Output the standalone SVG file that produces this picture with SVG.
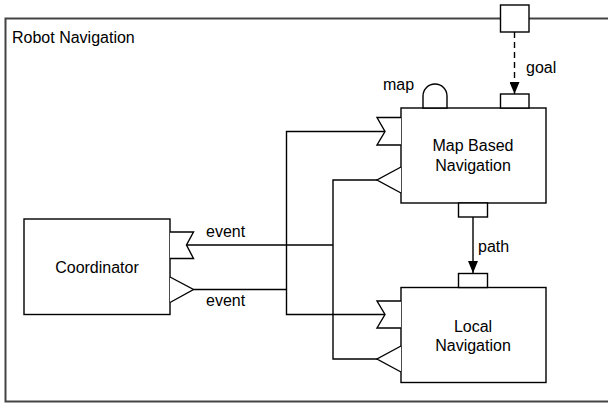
<svg xmlns="http://www.w3.org/2000/svg" width="608" height="405" viewBox="0 0 608 405">
  <defs>
    <marker id="arrow" viewBox="0 0 12 10" refX="12" refY="5" markerWidth="12" markerHeight="10" markerUnits="userSpaceOnUse" orient="auto">
      <path d="M0,0 L12,5 L0,10 Z" fill="#000"/>
    </marker>
    <style>
      .frame { fill: none; stroke: #444; stroke-width: 2; }
      .box { fill: #fff; stroke: #000; stroke-width: 1.4; }
      .port { fill: #fff; stroke: #000; stroke-width: 1.4; stroke-linejoin: miter; }
      .wire { fill: none; stroke: #000; stroke-width: 1.4; }
      .flow { fill: none; stroke: #000; stroke-width: 1.4; }
      .dashed { stroke-dasharray: 6 4; }
      text { font-family: "Liberation Sans", Arial, Helvetica, sans-serif; font-size: 16px; fill: #000; }
      .mid { text-anchor: middle; }
    </style>
  </defs>

  <!-- enclosing component -->
  <g id="robot-navigation">
    <rect class="frame" x="5.5" y="18.5" width="610" height="383"/>
    <text x="12" y="43">Robot Navigation</text>
  </g>

  <!-- connectors -->
  <g id="connectors">
    <!-- event wiring -->
    <polyline class="wire" points="385,131.5 286.5,131.5 286.5,314.5 385,314.5"/>
    <polyline class="wire" points="377,180 333,180 333,359 377,359"/>
    <line class="wire" x1="186.5" y1="245" x2="333" y2="245"/>
    <line class="wire" x1="193.5" y1="289.5" x2="286.5" y2="289.5"/>
    <!-- goal -->
    <line class="flow dashed" x1="514.5" y1="32" x2="514.5" y2="94" marker-end="url(#arrow)"/>
    <!-- path -->
    <line class="flow" x1="473" y1="217" x2="473" y2="273" marker-end="url(#arrow)"/>
  </g>

  <g id="connector-labels">
    <text x="526" y="73">goal</text>
    <text x="478" y="252">path</text>
    <text x="206" y="237">event</text>
    <text x="206" y="306">event</text>
  </g>

  <!-- external goal port on the frame -->
  <g id="goal-port">
    <rect class="port" x="500.5" y="5" width="28.5" height="27"/>
  </g>

  <g id="map-based-navigation">
    <rect class="box" x="401" y="108" width="145" height="95"/>
    <path class="port" d="M423,108 L423,96 A12,12 0 0 1 447,96 L447,108 Z"/>
    <text x="383" y="90">map</text>
    <rect class="port" x="500.5" y="94" width="28.5" height="14"/>
    <rect class="port" x="458.5" y="203" width="29" height="14"/>
    <path class="port" d="M401,117.5 L377,117.5 L385,131.5 L377,145 L401,145"/>
    <path class="port" d="M401,167 L377,180 L401,193"/>
    <text class="mid" x="473" y="151">Map Based</text>
    <text class="mid" x="473" y="170.5">Navigation</text>
  </g>

  <g id="local-navigation">
    <rect class="box" x="401" y="287.5" width="145" height="95"/>
    <rect class="port" x="458.5" y="273.5" width="29" height="14"/>
    <path class="port" d="M401,301 L377,301 L385,314.5 L377,328 L401,328"/>
    <path class="port" d="M401,346 L377,359 L401,372"/>
    <text class="mid" x="473" y="331.5">Local</text>
    <text class="mid" x="473" y="351">Navigation</text>
  </g>

  <g id="coordinator">
    <rect class="box" x="24" y="219" width="146" height="95.5"/>
    <path class="port" d="M170,232 L193.5,232 L186.5,245 L193.5,258.5 L170,258.5"/>
    <path class="port" d="M170,277 L193.5,289.5 L170,302.5"/>
    <text class="mid" x="97" y="273">Coordinator</text>
  </g>
</svg>
